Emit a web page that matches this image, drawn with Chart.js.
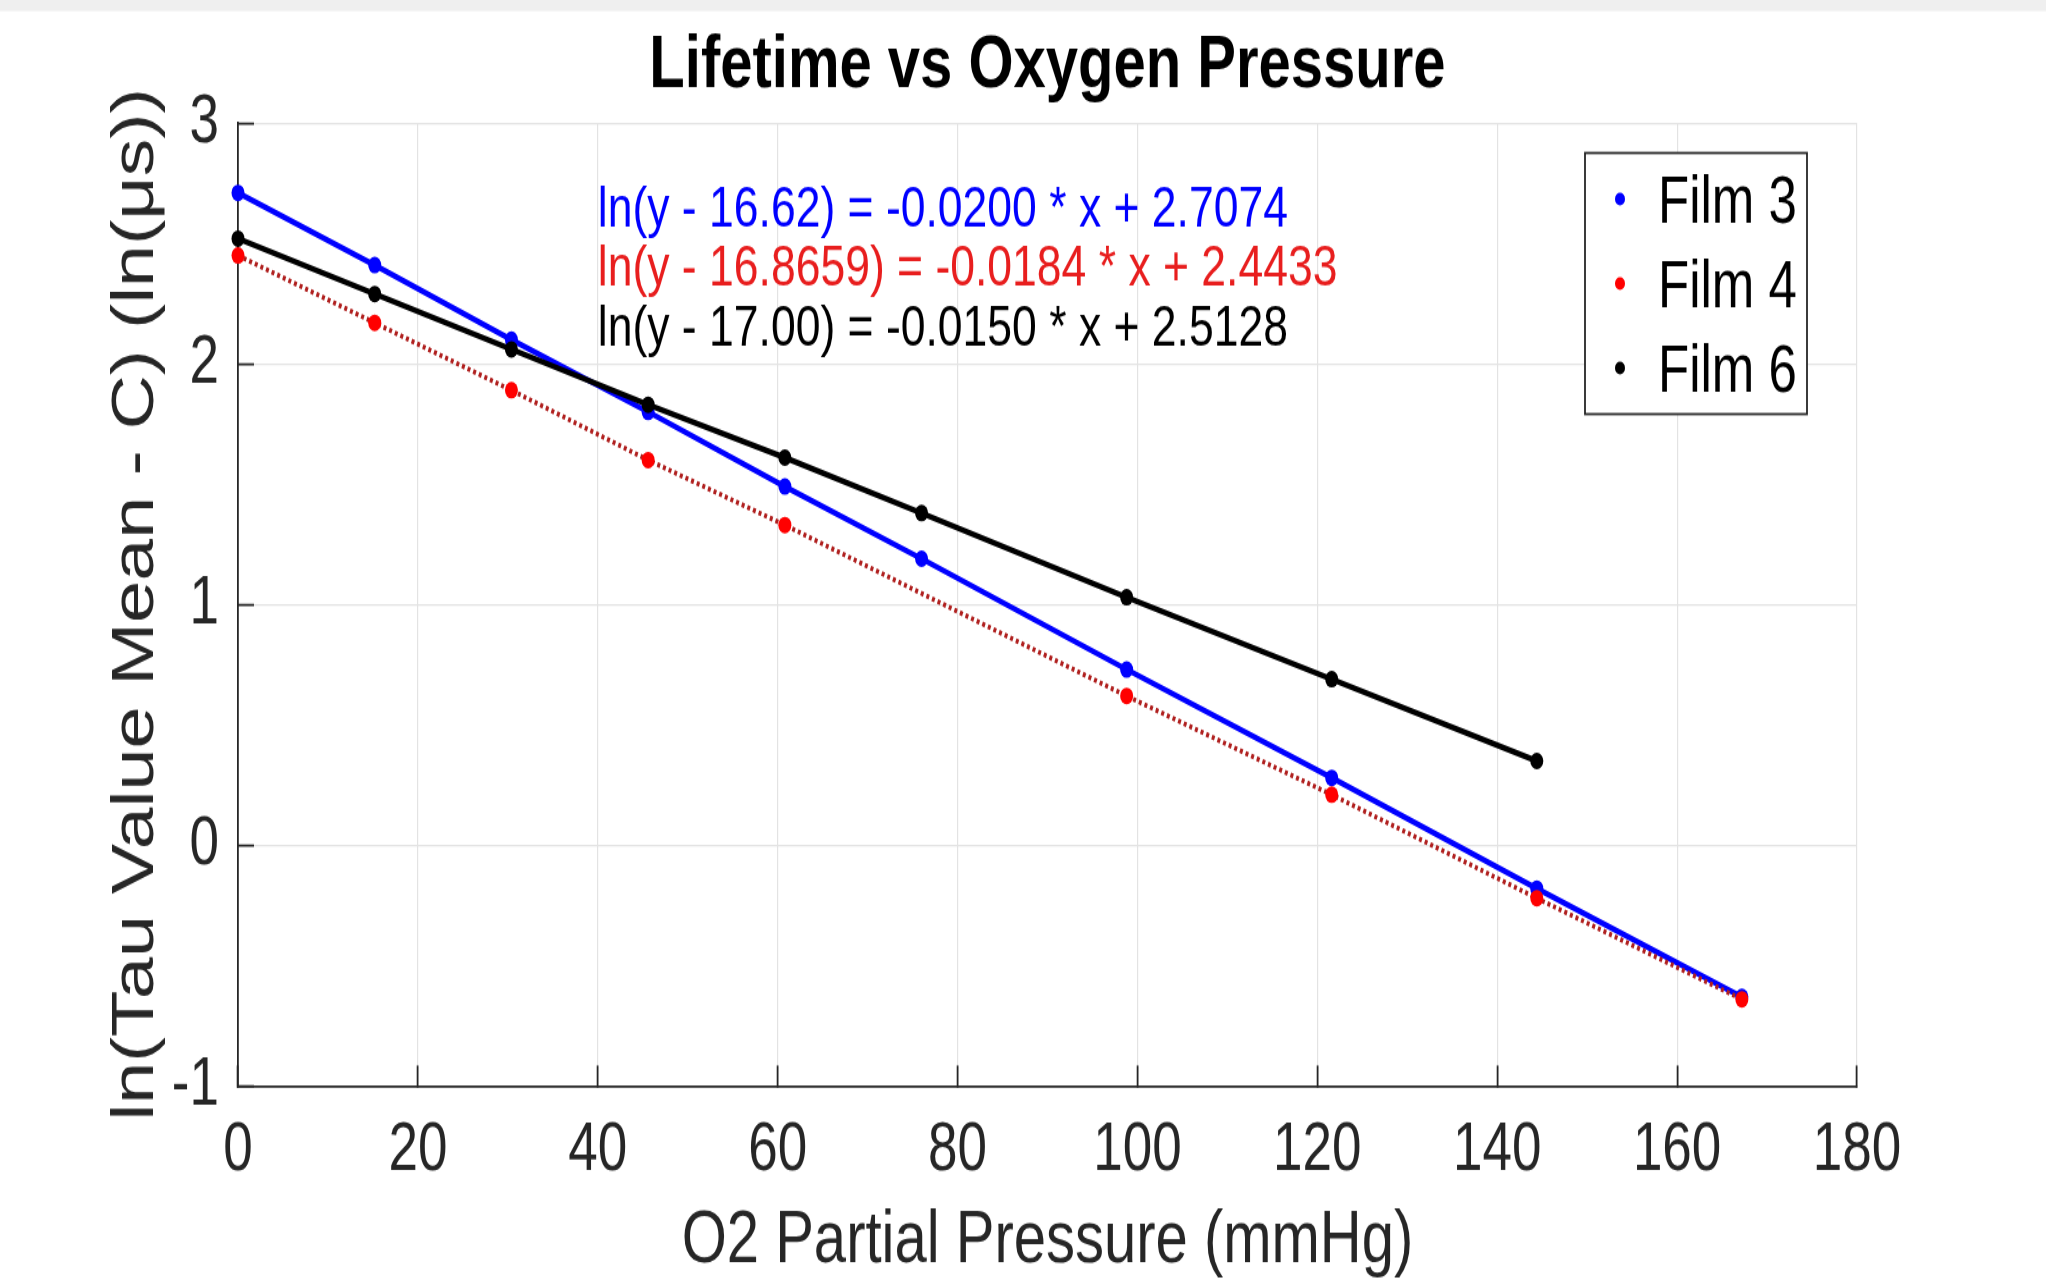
<!DOCTYPE html>
<html>
<head>
<meta charset="utf-8">
<title>Lifetime vs Oxygen Pressure</title>
<script src="https://cdn.jsdelivr.net/npm/chart.js"></script>
<style>
  html, body { margin: 0; padding: 0; background: #fff; overflow: hidden; }
  canvas { display: block; }
</style>
</head>
<body>
<!-- the source figure is a stretched matlab export, so the canvas is drawn 1000 tall and shown 1280 tall -->
<canvas id="lifetimeChart" width="2046" height="1000" style="width:2046px;height:1280px"></canvas>
<script>
// O2 partial pressure (mmHg) of each measurement
var pressureFilm3 = [0, 15.2, 30.4, 45.6, 60.8, 76, 98.8, 121.6, 144.4, 167.2];
var pressureFilm4 = [0, 15.2, 30.4, 45.6, 60.8, 98.8, 121.6, 144.4, 167.2];
var pressureFilm6 = [0, 15.2, 30.4, 45.6, 60.8, 76, 98.8, 121.6, 144.4];

// ln(tau mean - C), ln(us)
var lnTauFilm3 = [2.71, 2.41, 2.10, 1.80, 1.49, 1.19, 0.73, 0.28, -0.18, -0.63];
var lnTauFilm4 = [2.45, 2.17, 1.89, 1.60, 1.33, 0.62, 0.21, -0.22, -0.64];
var lnTauFilm6 = [2.52, 2.29, 2.06, 1.83, 1.61, 1.38, 1.03, 0.69, 0.35];

var filmLabels = ['Film 3', 'Film 4', 'Film 6'];

var fitEquations = [
    'ln(y - 16.62) = -0.0200 * x + 2.7074',
    'ln(y - 16.8659) = -0.0184 * x + 2.4433',
    'ln(y - 17.00) = -0.0150 * x + 2.5128'
];
var equationColors = ['#0000ff', '#e81e1e', '#000000'];
// where the equations sit, in data units
var equationX = 40;
var equationY = [2.633, 2.388, 2.139];

var sans = "'Liberation Sans', Arial, sans-serif";
var axisGrey = '#262626';

function toPoints(xs, ys) {
    return xs.map(function (x, i) { return { x: x, y: ys[i] }; });
}

var figureDecor = {
    id: 'figureDecor',
    beforeDraw: function (chart) {
        var ctx = chart.ctx;
        ctx.save();
        ctx.fillStyle = '#ffffff';
        ctx.fillRect(0, 0, chart.width, chart.height);
        ctx.fillStyle = '#efefef';
        ctx.fillRect(0, 0, chart.width, 8.6);
        ctx.restore();
    },
    afterDatasetsDraw: function (chart) {
        var ctx = chart.ctx;
        var xs = chart.scales.x, ys = chart.scales.y, area = chart.chartArea;
        ctx.save();
        ctx.textBaseline = 'middle';
        ctx.textAlign = 'left';
        ctx.font = '44.5px ' + sans;
        fitEquations.forEach(function (text, i) {
            ctx.fillStyle = equationColors[i];
            ctx.fillText(text, xs.getPixelForValue(equationX), ys.getPixelForValue(equationY[i]));
        });

        // legend inside the axes, like matlab
        var boxLeft = area.right - 272, boxTop = area.top + 23.4;
        var boxW = 222, boxH = 204;
        ctx.fillStyle = '#ffffff';
        ctx.fillRect(boxLeft, boxTop, boxW, boxH);
        ctx.strokeStyle = axisGrey;
        ctx.lineWidth = 1.8;
        ctx.strokeRect(boxLeft, boxTop, boxW, boxH);
        ctx.font = '51px ' + sans;
        chart.data.datasets.forEach(function (ds, i) {
            var cy = boxTop + 40 + i * 66;
            ctx.fillStyle = ds.pointBackgroundColor;
            ctx.beginPath();
            ctx.arc(boxLeft + 35, cy - 4, 5, 0, 2 * Math.PI);
            ctx.fill();
            ctx.fillStyle = '#000000';
            ctx.fillText(ds.label, boxLeft + 73, cy);
        });
        ctx.restore();
    }
};

var ctx = document.getElementById('lifetimeChart').getContext('2d');
var lifetimeChart = new Chart(ctx, {
    type: 'line',
    data: {
        datasets: [{
            label: filmLabels[0],
            data: toPoints(pressureFilm3, lnTauFilm3),
            borderColor: '#0000ff',
            borderWidth: 4.5,
            pointBackgroundColor: '#0000ff',
            pointBorderWidth: 0,
            pointRadius: 6.5,
            order: 2,
            clip: 10
        }, {
            label: filmLabels[1],
            data: toPoints(pressureFilm4, lnTauFilm4),
            borderColor: '#b0201f',
            borderWidth: 3.8,
            borderDash: [3, 3],
            pointBackgroundColor: '#ff0000',
            pointBorderWidth: 0,
            pointRadius: 6.5,
            order: 1,
            clip: 10
        }, {
            label: filmLabels[2],
            data: toPoints(pressureFilm6, lnTauFilm6),
            borderColor: '#000000',
            borderWidth: 4.5,
            pointBackgroundColor: '#000000',
            pointBorderWidth: 0,
            pointRadius: 6.5,
            order: 0,
            clip: 10
        }]
    },
    options: {
        responsive: false,
        animation: false,
        devicePixelRatio: 1,
        layout: {
            padding: { top: 0, right: 189, bottom: 0, left: 0 }
        },
        plugins: {
            legend: { display: false },
            tooltip: { enabled: false },
            title: {
                display: true,
                fullSize: false,
                text: 'Lifetime vs Oxygen Pressure',
                color: '#000000',
                font: { family: sans, size: 58, weight: 'bold', lineHeight: 1 },
                padding: { top: 22.6, bottom: 15.5 }
            }
        },
        scales: {
            x: {
                type: 'linear',
                min: 0,
                max: 180,
                ticks: {
                    stepSize: 20,
                    color: axisGrey,
                    font: { family: sans, size: 53 },
                    padding: 35,
                    maxRotation: 0
                },
                grid: {
                    color: '#e3e3e3',
                    lineWidth: 1.2,
                    tickLength: -16,
                    tickColor: axisGrey,
                    tickWidth: 1.8
                },
                border: { color: axisGrey, width: 1.8 },
                title: {
                    display: true,
                    text: 'O2 Partial Pressure (mmHg)',
                    color: axisGrey,
                    font: { family: sans, size: 58, lineHeight: 1 },
                    padding: { top: 0, bottom: 0.7 }
                },
                afterFit: function (scale) { scale.height = 151.6; }
            },
            y: {
                min: -1,
                max: 3,
                ticks: {
                    stepSize: 1,
                    color: axisGrey,
                    font: { family: sans, size: 53 },
                    padding: 35
                },
                grid: {
                    color: '#e3e3e3',
                    lineWidth: 1.2,
                    tickLength: -16,
                    tickColor: axisGrey,
                    tickWidth: 1.8
                },
                border: { color: axisGrey, width: 1.8 },
                title: {
                    display: true,
                    text: 'ln(Tau Value Mean - C) (ln(μs))',
                    color: axisGrey,
                    font: { family: sans, size: 59, lineHeight: 1 },
                    padding: { top: 107, bottom: 0 }
                },
                afterFit: function (scale) { scale.width = 238; }
            }
        }
    },
    plugins: [figureDecor]
});
</script>
</body>
</html>
